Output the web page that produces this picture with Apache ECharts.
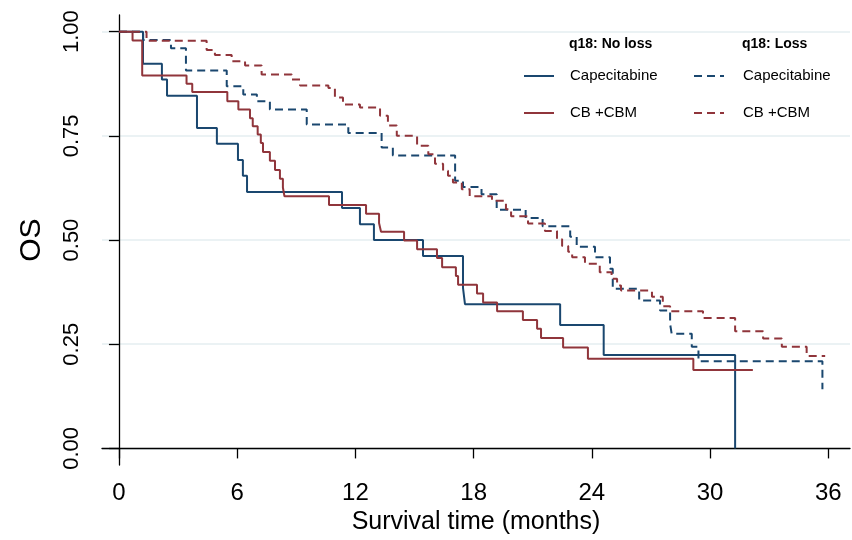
<!DOCTYPE html>
<html>
<head>
<meta charset="utf-8">
<script src="https://cdn.jsdelivr.net/npm/echarts@6/dist/echarts.min.js"></script>
<style>
  html, body { margin: 0; padding: 0; background: #fff; }
</style>
</head>
<body>
<div id="chart-container" style="width: 852px; height: 540px;"></div>
<script>
// tick labels
const xTicks = [0, 6, 12, 18, 24, 30, 36];
const yTicks = [0, 0.25, 0.5, 0.75, 1];

// q18: No loss, Capecitabine
const capNoLossT = [0, 1.22, 2.18, 2.44, 3.96, 4.97, 6.04, 6.29, 6.5, 11.32, 12.23, 12.94, 15.43, 17.46, 17.56, 22.39, 24.6, 31.27];
const capNoLossS = [1, 0.923, 0.885, 0.846, 0.769, 0.731, 0.692, 0.654, 0.615, 0.577, 0.538, 0.5, 0.462, 0.385, 0.346, 0.296, 0.224, 0];

// q18: No loss, CB +CBM
const cbNoLossT = [0, 0.69, 1.18, 3.43, 3.72, 5.5, 6.06, 6.65, 6.79, 7.04, 7.2, 7.31, 7.66, 7.92, 8.17, 8.32, 8.4, 10.66, 12.54, 13.2, 13.3, 14.47, 15.13, 16.14, 16.4, 17.1, 17.21, 18.17, 18.48, 19.19, 20.5, 21.22, 21.42, 22.54, 23.8, 29.15, 32.17];
const cbNoLossS = [1, 0.979, 0.895, 0.875, 0.855, 0.833, 0.813, 0.792, 0.773, 0.753, 0.733, 0.711, 0.69, 0.668, 0.647, 0.626, 0.605, 0.584, 0.563, 0.541, 0.52, 0.499, 0.478, 0.457, 0.435, 0.414, 0.393, 0.372, 0.35, 0.329, 0.308, 0.287, 0.265, 0.242, 0.215, 0.188, 0.188];

// q18: Loss, Capecitabine
const capLossT = [0, 1.23, 2.64, 3.4, 5.47, 6.31, 7.0, 7.66, 9.53, 11.64, 13.33, 13.9, 17.06, 17.46, 18.4, 19.17, 20.64, 21.5, 22.9, 23.23, 24.16, 24.92, 25.06, 26.4, 27.46, 27.97, 28.05, 29.07, 29.41, 35.7];
const capLossS = [1, 0.98, 0.96, 0.907, 0.869, 0.849, 0.833, 0.813, 0.777, 0.757, 0.722, 0.703, 0.642, 0.627, 0.61, 0.573, 0.553, 0.533, 0.508, 0.484, 0.459, 0.431, 0.383, 0.355, 0.331, 0.299, 0.275, 0.244, 0.209, 0.142];

// q18: Loss, CB +CBM
const cbLossT = [0, 1.4, 4.45, 4.87, 5.72, 6.4, 7.24, 8.77, 9.19, 10.63, 10.96, 11.37, 12.23, 13.25, 13.65, 14.1, 15.13, 15.7, 16.04, 16.45, 16.7, 16.95, 17.4, 17.8, 18.93, 19.64, 19.9, 20.76, 21.62, 22.23, 22.49, 22.8, 23.0, 23.65, 24.4, 25.0, 25.28, 25.48, 27.05, 27.6, 27.97, 29.64, 31.27, 32.69, 33.64, 34.9, 35.84];
const cbLossS = [1, 0.978, 0.956, 0.944, 0.929, 0.919, 0.897, 0.885, 0.871, 0.865, 0.842, 0.825, 0.818, 0.798, 0.775, 0.75, 0.726, 0.706, 0.683, 0.666, 0.654, 0.638, 0.622, 0.605, 0.594, 0.574, 0.557, 0.54, 0.522, 0.502, 0.486, 0.472, 0.459, 0.443, 0.423, 0.407, 0.391, 0.379, 0.364, 0.341, 0.329, 0.313, 0.281, 0.264, 0.244, 0.222, 0.222];

const navy = '#1a476f';
const maroon = '#90353b';
const font = "'Liberation Sans', Arial, sans-serif";

function pairs(t, s) {
  return t.map((v, i) => [v, s[i]]);
}

function kmLine(name, t, s, color, dashed) {
  return {
    name: name,
    type: 'line',
    step: 'end',
    symbol: 'none',
    data: pairs(t, s),
    lineStyle: { color: color, width: 2, type: dashed ? [8, 5] : 'solid' },
    itemStyle: { color: color },
    emphasis: { disabled: true }
  };
}

// two legend columns, one per q18 group
function groupLegend(names, left, textGap) {
  return {
    data: names,
    orient: 'vertical', left: left, top: 67, padding: 0,
    itemWidth: 30, itemHeight: 18, itemGap: 19,
    selectedMode: false,
    itemStyle: { opacity: 0 },
    formatter: name => name.split('|')[0],
    textStyle: { fontFamily: font, fontSize: 15, lineHeight: 18, color: '#000', padding: [0, 0, 0, textGap] }
  };
}

const chart = echarts.init(document.getElementById('chart-container'));

const option = {
  animation: false,
  backgroundColor: '#fff',
  textStyle: { fontFamily: font },
  title: [
    {
      text: 'q18: No loss', left: 569, top: 37, padding: 0,
      textStyle: { fontFamily: font, fontSize: 14, fontWeight: 'bold', color: '#000' }
    },
    {
      text: 'q18: Loss', left: 742, top: 37, padding: 0,
      textStyle: { fontFamily: font, fontSize: 14, fontWeight: 'bold', color: '#000' }
    }
  ],
  legend: [
    groupLegend(['Capecitabine|No loss', 'CB +CBM|No loss'], 523, 11),
    groupLegend(['Capecitabine|Loss', 'CB +CBM|Loss'], 693, 14)
  ],
  grid: { left: 102, right: 2, top: 15, bottom: 73 },
  xAxis: {
    type: 'value',
    min: -0.86,
    max: 37.1,
    name: 'Survival time (months)',
    nameLocation: 'middle',
    nameGap: 43,
    nameTextStyle: { fontFamily: font, fontSize: 25, color: '#000' },
    axisLine: { lineStyle: { color: '#000', width: 1.3 } },
    axisTick: { customValues: xTicks, length: 10, lineStyle: { color: '#000', width: 1.3 } },
    axisLabel: { customValues: xTicks, margin: 16, fontFamily: font, fontSize: 24, color: '#000' },
    splitLine: { show: false }
  },
  yAxis: {
    type: 'value',
    min: -0.04,
    max: 1.04,
    name: 'OS',
    nameLocation: 'middle',
    nameGap: 55,
    nameTextStyle: { fontFamily: font, fontSize: 30, color: '#000' },
    axisLine: { show: true, lineStyle: { color: '#000', width: 1.3 } },
    axisTick: { show: true, customValues: yTicks, length: 10, lineStyle: { color: '#000', width: 1.3 } },
    axisLabel: {
      customValues: yTicks, rotate: 90, margin: 19,
      fontFamily: font, fontSize: 22, color: '#000',
      formatter: v => v.toFixed(2)
    },
    splitLine: { show: true, lineStyle: { color: '#e4eef1', width: 1.5 } }
  },
  series: [
    kmLine('Capecitabine|No loss', capNoLossT, capNoLossS, navy, false),
    kmLine('CB +CBM|No loss', cbNoLossT, cbNoLossS, maroon, false),
    kmLine('Capecitabine|Loss', capLossT, capLossS, navy, true),
    kmLine('CB +CBM|Loss', cbLossT, cbLossS, maroon, true)
  ]
};

chart.setOption(option);
</script>
</body>
</html>
